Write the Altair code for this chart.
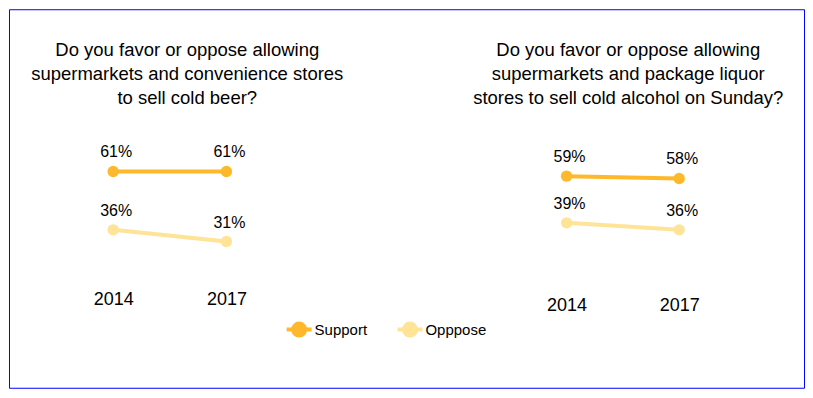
import altair as alt
import pandas as pd

years = ["2014", "2017"]
series_names = ["Support", "Opppose"]
beer_support = [61, 61]
beer_oppose = [36, 31]
sunday_support = [59, 58]
sunday_oppose = [39, 36]
titles = [
    "Do you favor or oppose allowing\nsupermarkets and convenience stores\nto sell cold beer?",
    "Do you favor or oppose allowing\nsupermarkets and package liquor\nstores to sell cold alcohol on Sunday?",
]
colors = ["#FDB92B", "#FFE396"]


def frame(support, oppose):
    rows = []
    for name, vals in zip(series_names, [support, oppose]):
        for yr, v in zip(years, vals):
            rows.append({"year": yr, "series": name, "value": v})
    return pd.DataFrame(rows)


beer_df = frame(beer_support, beer_oppose)
sunday_df = frame(sunday_support, sunday_oppose)

FONT = "Liberation Sans"
y_scale = alt.Scale(domain=[0, 100], range=[305, 71.3])
color_scale = alt.Scale(domain=series_names, range=colors)

legend_path = "M-1,0L1,0M0.48,0A0.48,0.48,0,1,1,-0.48,0A0.48,0.48,0,1,1,0.48,0"


def panel(df, xrange, offset):
    x = alt.X(
        "year:N",
        scale=alt.Scale(domain=years, range=xrange, padding=0),
        axis=alt.Axis(
            orient="bottom", offset=offset, domain=False, ticks=False, tickSize=0,
            labelPadding=0, labelBaseline="middle", labelFontSize=18, labelColor="black",
            labelAngle=0, grid=False, title=None, labelFont=FONT,
        ),
    )
    y = alt.Y("value:Q", scale=y_scale, axis=None)
    color = alt.Color(
        "series:N", scale=color_scale, sort=series_names,
        legend=alt.Legend(
            orient="none", legendX=276, legendY=306, direction="horizontal", title=None,
            symbolType=legend_path, symbolSize=625, symbolStrokeWidth=4,
            labelFontSize=15, labelFont=FONT, labelColor="black", labelOffset=1,
            columnPadding=22, padding=0,
        ),
    )
    base = alt.Chart(df).encode(x=x, y=y)
    line = base.mark_line(strokeWidth=4).encode(color=color, detail="series:N")
    pts = base.mark_circle(size=130, opacity=1).encode(color=color)
    labels = base.transform_calculate(label="datum.value + '%'").mark_text(
        fontSize=16, font=FONT, color="black", dy=-19, dx=3, baseline="middle"
    ).encode(text="label:N")
    return alt.layer(line, pts, labels)


left = panel(beer_df, [104.3, 217.7], -88)
right = panel(sunday_df, [558.3, 671], -82)

title_df = pd.DataFrame({"t": titles})
title_left = alt.Chart(title_df.iloc[[0]]).mark_text(
    fontSize=18.5, font=FONT, color="black", lineBreak="\n", lineHeight=24,
    align="center", baseline="alphabetic"
).encode(text="t:N", x=alt.value(178.5), y=alt.value(46.7))
title_right = alt.Chart(title_df.iloc[[1]]).mark_text(
    fontSize=18.5, font=FONT, color="black", lineBreak="\n", lineHeight=24,
    align="center", baseline="alphabetic"
).encode(text="t:N", x=alt.value(620), y=alt.value(46.7))

chart = alt.layer(left, right, title_left, title_right).resolve_scale(
    x="independent"
).properties(width=796, height=379, padding=1, background="white").configure(
    font=FONT,
    view=alt.ViewConfig(stroke="#0000FF", strokeWidth=1),
)

chart.save("out.html", embed_options={"renderer": "svg", "actions": False})
